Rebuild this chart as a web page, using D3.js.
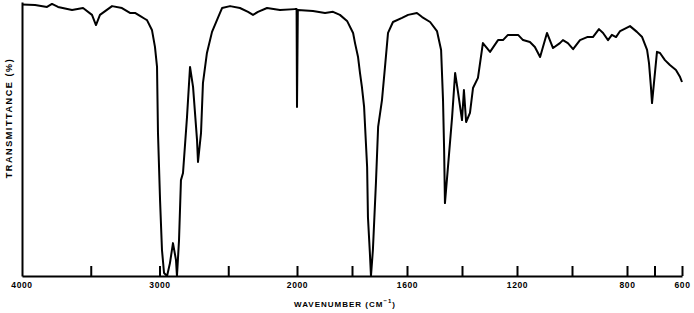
<!DOCTYPE html>
<html>
<head>
<meta charset="utf-8">
<script src="https://cdn.jsdelivr.net/npm/d3@7/dist/d3.min.js"></script>
<style>
  html, body { margin: 0; padding: 0; background: #fff; }
  svg { display: block; }
  text { font-family: "Liberation Sans", Arial, sans-serif; font-weight: bold; fill: #000; }
</style>
</head>
<body>
<svg id="chart" width="694" height="313"></svg>
<script>
// Wavenumber (cm^-1) and transmittance (%)
const wavenumber = [4000,3905,3818,3782,3738,3636,3556,3491,3462,3433,3345,3273,3215,3178,3142,3105,3091,3055,3033,3018,3011,2996,2982,2967,2945,2924,2902,2880,2873,2858,2844,2829,2800,2778,2756,2727,2720,2698,2684,2655,2618,2560,2545,2487,2415,2356,2320,2284,2218,2124,2015,2003,2000,1997,1942,1898,1869,1844,1818,1796,1789,1778,1771,1764,1756,1745,1742,1735,1731,1724,1713,1705,1691,1680,1669,1651,1618,1596,1564,1545,1516,1491,1476,1469,1465,1462,1451,1436,1425,1415,1400,1393,1385,1371,1360,1342,1324,1298,1269,1251,1233,1196,1178,1153,1135,1116,1091,1069,1044,1033,1015,996,971,945,924,902,887,869,855,840,825,789,764,745,727,720,713,709,702,691,680,662,644,622,607,600];
const transmittance = [99.1,98.9,98.2,99.3,98.2,97.1,97.8,95.3,91.6,95.3,98.5,97.8,96.0,96.0,94.9,93.8,93.4,89.8,83.6,76.3,52.2,27.7,9.5,1.1,0,4.7,12.0,5.8,0,13.1,35.0,37.6,58.0,76.3,69.0,49.6,41.6,52.2,70.4,81.4,89.1,96.0,97.8,98.5,97.8,96.4,95.3,96.4,97.8,97.1,97.4,97.4,61.7,97.1,96.7,96.0,96.4,95.3,93.1,88.7,85.0,79.9,74.1,69.0,61.7,39.8,21.5,8.4,0,9.5,33.9,54.4,64.2,76.3,88.7,92.7,94.2,95.3,96.0,94.5,92.7,89.4,82.5,64.2,46.0,26.6,39.8,58.0,74.1,67.5,56.9,67.9,56.2,59.5,68.6,72.3,85.0,81.8,86.1,86.1,88.0,88.0,86.1,85.4,83.6,79.9,88.7,83.2,85.0,86.1,85.0,82.8,86.1,87.2,87.2,90.1,88.7,86.1,88.0,87.2,89.4,91.2,89.1,87.2,82.5,77.7,69.0,63.1,70.4,81.8,81.4,78.8,77.0,75.2,72.6,70.8];

const tickValues = [3500,3000,2500,2000,1800,1600,1400,1200,1000,800,700,600];
const tickLabels = [4000,3000,2000,1600,1200,800,600];

const svg = d3.select("#chart");
const axisY = 276;

// Piecewise scale: 4000-2000 compressed, 2000-600 expanded (double scale)
const x = d3.scaleLinear().domain([4000, 2000, 600]).range([22, 297, 682]);
const y = d3.scaleLinear().domain([0, 100]).range([axisY, 2]);

// bottom axis with upward ticks
const xAxis = d3.axisBottom(x)
  .tickValues(tickValues)
  .tickSizeInner(-10)
  .tickSizeOuter(0)
  .tickPadding(6)
  .tickFormat(d => tickLabels.includes(d) ? d : "");

const gx = svg.append("g").attr("transform", `translate(0,${axisY})`).call(xAxis);
gx.select(".domain").attr("stroke", "#000").attr("stroke-width", 2);
gx.selectAll(".tick line").attr("stroke", "#000").attr("stroke-width", 2);
gx.selectAll(".tick text").attr("font-size", 8.5).attr("letter-spacing", 0.6)
  .attr("font-family", "Liberation Sans, Arial, sans-serif").attr("font-weight", "bold");

// 4000 label at left axis
gx.append("text")
  .attr("x", x(4000)).attr("y", 6).attr("dy", "0.71em")
  .attr("text-anchor", "middle").attr("font-size", 8.5).attr("letter-spacing", 0.6)
  .attr("fill", "#000")
  .text(tickLabels[0]);

// left axis line
const yAxis = d3.axisLeft(y).tickValues([]).tickSizeOuter(0);
const gy = svg.append("g").attr("transform", `translate(${x(4000)},0)`).call(yAxis);
gy.select(".domain").attr("stroke", "#000").attr("stroke-width", 2);

// spectrum
const pts = wavenumber.map((w, i) => [w, transmittance[i]]);
const line = d3.line().x(d => x(d[0])).y(d => y(d[1]));
svg.append("path")
  .datum(pts)
  .attr("d", line)
  .attr("fill", "none")
  .attr("stroke", "#000")
  .attr("stroke-width", 2)
  .attr("stroke-linejoin", "round");

// axis titles
const xt = svg.append("text")
  .attr("x", 345).attr("y", 307)
  .attr("text-anchor", "middle")
  .attr("font-size", 8)
  .attr("letter-spacing", 1);
xt.append("tspan").text("WAVENUMBER (CM");
xt.append("tspan").attr("dy", -4).attr("font-size", 6).text("\u22121");
xt.append("tspan").attr("dy", 4).text(")");

svg.append("text")
  .attr("transform", "translate(11.5,118) rotate(-90)")
  .attr("text-anchor", "middle")
  .attr("font-size", 9)
  .attr("letter-spacing", 1.6)
  .text("TRANSMITTANCE (%)");
</script>
</body>
</html>
